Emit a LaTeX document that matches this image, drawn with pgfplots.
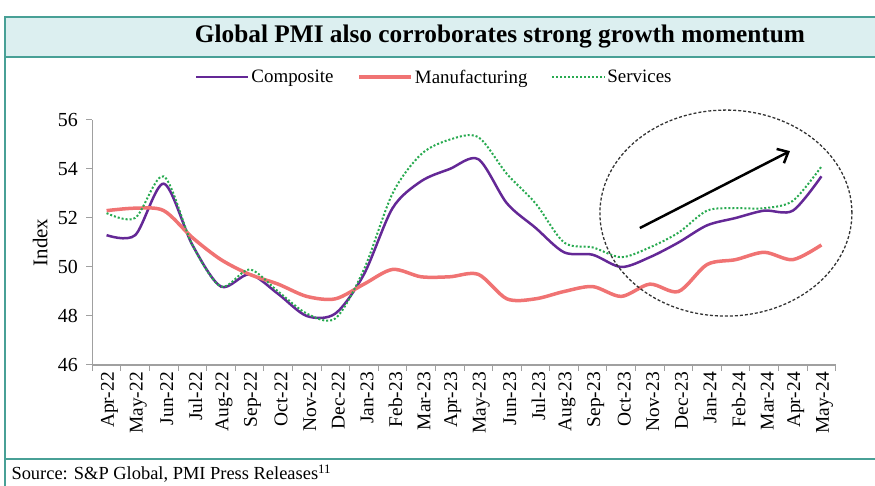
\documentclass[border=0pt]{standalone}
\usepackage{fontspec}
\setmainfont{Liberation Serif}
\usepackage{pgfplots}
\usepackage{pgfplotstable}
\pgfplotsset{compat=1.18}
\usetikzlibrary{arrows.meta}

\definecolor{frameteal}{RGB}{72,160,150}
\definecolor{titlefill}{RGB}{220,239,240}
\definecolor{compcol}{RGB}{100,40,150}
\definecolor{mfgcol}{RGB}{240,115,115}
\definecolor{servcol}{RGB}{40,170,80}
\definecolor{axgray}{RGB}{160,160,160}

% month index, composite, manufacturing, services
\pgfplotstableread{
i  comp mfg  serv
0  51.3 52.3 52.2
1  51.3 52.4 52.0
2  53.4 52.3 53.7
3  50.9 51.2 50.9
4  49.2 50.3 49.2
5  49.7 49.7 49.9
6  48.9 49.3 49.0
7  48.0 48.8 48.1
8  48.1 48.7 47.9
9  49.7 49.3 49.9
10 52.4 49.9 53.0
11 53.5 49.6 54.6
12 54.0 49.6 55.2
13 54.4 49.7 55.3
14 52.6 48.7 53.8
15 51.6 48.7 52.6
16 50.6 49.0 51.0
17 50.5 49.2 50.8
18 50.0 48.8 50.4
19 50.4 49.3 50.8
20 51.0 49.0 51.4
21 51.7 50.1 52.3
22 52.0 50.3 52.4
23 52.3 50.6 52.4
24 52.3 50.3 52.7
25 53.7 50.9 54.1
}\pmidata

\begin{document}
\begin{tikzpicture}[x=1bp,y=1bp]
\useasboundingbox (0,0) rectangle (875,486);
% title band and frame
\fill[titlefill] (5,469) rectangle (875,429);
\draw[frameteal, line width=2bp] (875,469) -- (5,469) -- (5,0);
\draw[frameteal, line width=2bp] (5,429) -- (875,429);
\draw[frameteal, line width=2bp] (5,27) -- (875,27);
\node[font=\bfseries\fontsize{25.4}{29}\selectfont] at (500,449) {Global PMI also corroborates strong growth momentum};
\node[anchor=west, font=\fontsize{18.5}{21}\selectfont] at (8,12) {Source: S\&P Global, PMI Press Releases\textsuperscript{11}};

\begin{axis}[
    at={(92.3bp,121bp)}, anchor=south west,
    scale only axis, width=743.4bp, height=245bp,
    xmin=-0.5, xmax=25.5, ymin=46, ymax=56,
    axis x line=bottom, axis y line=left,
    axis line style={axgray, line width=1.2bp, -},
    ytick={46,48,...,56},
    xtick={0,...,25},
    xticklabels={Apr-22,May-22,Jun-22,Jul-22,Aug-22,Sep-22,Oct-22,Nov-22,Dec-22,Jan-23,Feb-23,Mar-23,Apr-23,May-23,Jun-23,Jul-23,Aug-23,Sep-23,Oct-23,Nov-23,Dec-23,Jan-24,Feb-24,Mar-24,Apr-24,May-24},
    xticklabel style={rotate=90, anchor=east, font=\fontsize{19.5}{21}\selectfont, inner sep=1bp, yshift=-3bp},
    yticklabel style={font=\fontsize{20}{22}\selectfont, xshift=-5bp},
    major x tick style={draw=none},
    minor xtick={-0.5,0.5,...,25.5},
    tick align=outside,
    tick style={axgray, line width=1bp},
    major tick length=6bp, minor tick length=6bp,
    ylabel={Index},
    every axis y label/.style={at={(axis description cs:-0.07,0.5)}, rotate=90, anchor=center, font=\fontsize{21}{23}\selectfont},
    /pgf/number format/assume math mode=true,
    legend columns=3,
    legend style={at={(0.46,1.175)}, anchor=center, draw=none, fill=none,
        font=\fontsize{19}{21}\selectfont,
        /tikz/every even column/.append style={column sep=22bp}},
    legend image code/.code={\draw[#1] (0bp,0bp) -- (52bp,0bp);},
    clip=false,
]
\addplot[compcol, line width=2.5bp, smooth, tension=0.5] table[x=i, y=comp] {\pmidata};
\addlegendentry{Composite}
\addplot[mfgcol, line width=3.5bp, smooth, tension=0.5] table[x=i, y=mfg] {\pmidata};
\addlegendentry{Manufacturing}
\addplot[servcol, line width=2bp, dotted, smooth, tension=0.5] table[x=i, y=serv] {\pmidata};
\addlegendentry{Services}

\draw[black!80, line width=1.3bp, dash pattern=on 3bp off 2bp] (axis cs:21.66,52.2) ellipse [x radius=126bp, y radius=103bp];
\draw[black, line width=2.5bp, -{Straight Barb[length=9bp,width=16bp]}] (axis cs:18.65,51.59) -- (axis cs:23.9,54.73);
\end{axis}
\end{tikzpicture}
\end{document}
